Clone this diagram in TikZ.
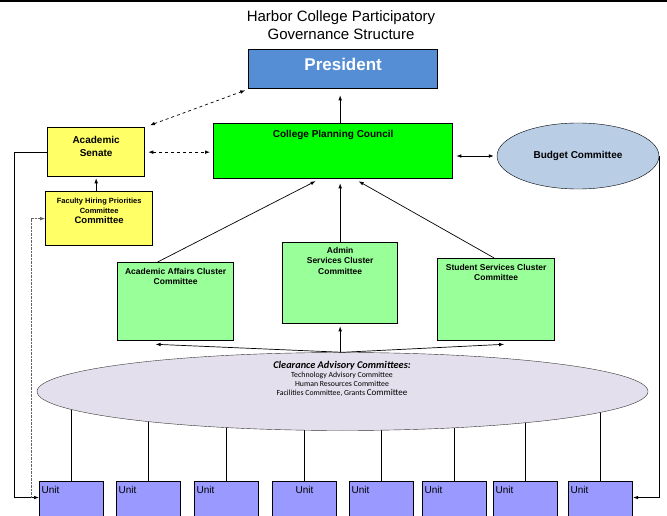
\documentclass[tikz,border=0pt]{standalone}
\usepackage{fontspec}
\setmainfont{Liberation Sans}
\newfontfamily\calfont{Carlito}
\usetikzlibrary{shapes.geometric,backgrounds,arrows.meta}

\definecolor{presblue}{HTML}{558ED5}
\definecolor{senyellow}{HTML}{FFFF66}
\definecolor{cpcgreen}{HTML}{00FF00}
\definecolor{clustgreen}{HTML}{99FF99}
\definecolor{budgetblue}{HTML}{B9CDE5}
\definecolor{cacgray}{HTML}{E4DFEC}
\definecolor{unitblue}{HTML}{9999FF}

\tikzset{
	box/.style={draw, line width=1.3pt, anchor=north west, inner sep=0pt},
	lbl/.style={anchor=north, align=center, inner sep=6pt, font=\bfseries\fontsize{8.5}{10.5}\selectfont},
	unit/.style={box, fill=unitblue, line width=1.1pt, minimum width=64pt, minimum height=38pt},
	conn/.style={line width=0.7pt},
}

\begin{document}
\begin{tikzpicture} [>={Latex[length=5pt, width=3.6pt]}, x=1pt, y=-1pt]
		\useasboundingbox (0,0) rectangle (667,516);
		\clip (0,0) rectangle (667,516);
		\fill (0,0) rectangle (667,2.5);
		\node [font=\fontsize{15}{18}\selectfont, align=center] (title) at (341,25) {Harbor College Participatory\\Governance Structure};
		% top of the chart
		\node [box, fill=presblue, minimum width=189pt, minimum height=39pt,
			label={[lbl, inner sep=9pt, text=white, font=\bfseries\fontsize{17}{20}\selectfont]north:President}] (pres) at (248,49) {};
		\node [box, fill=senyellow, minimum width=97pt, minimum height=49pt,
			label={[lbl, font=\bfseries\fontsize{10}{13}\selectfont, inner sep=9pt]north:Academic\\Senate}] (senate) at (47,127) {};
		\node [box, fill=senyellow, minimum width=107pt, minimum height=54pt,
			label={[lbl, font=\bfseries\fontsize{7.5}{10}\selectfont, inner sep=7pt]north:Faculty Hiring Priorities\\Committee\\{\fontsize{9.5}{10}\selectfont Committee}}] (faculty) at (45,191) {};
		\node [box, fill=cpcgreen, minimum width=239pt, minimum height=55pt,
			label={[lbl, font=\bfseries\fontsize{10}{12}\selectfont, inner sep=7pt]north:College Planning Council}] (cpc) at (213,123) {};
		\node [ellipse, draw, fill=budgetblue, minimum width=162pt, minimum height=66pt, inner sep=0pt,
			font=\bfseries\fontsize{10}{12}\selectfont] (budget) at (578,156) {Budget Committee};
		% cluster committees
		\node [box, fill=clustgreen, minimum width=116pt, minimum height=78pt,
			label={[lbl]north:Academic Affairs Cluster\\Committee}] (aac) at (117,262) {};
		\node [box, fill=clustgreen, minimum width=115pt, minimum height=81pt,
			label={[lbl, inner sep=5pt]north:Admin\\Services Cluster\\Committee}] (asc) at (282,242) {};
		\node [box, fill=clustgreen, minimum width=117pt, minimum height=82pt,
			label={[lbl]north:Student Services Cluster\\Committee}] (ssc) at (437,258) {};
		% advisory committees and units
		\node [ellipse, draw=black!80, fill=cacgray, minimum width=611pt, minimum height=78pt, inner sep=0pt] (cac) at (342.5,391.5) {};
		\node [align=center, font=\calfont\fontsize{7.8}{9}\selectfont] (cactext) at (342,379)
			{{\bfseries\itshape\fontsize{10.3}{11}\selectfont Clearance Advisory Committees:}\\Technology Advisory Committee\\Human Resources Committee\\Facilities Committee, Grants {\fontsize{9}{9}\selectfont Committee}};
		\foreach \x [count=\i] in {39,116,194,272,349,422,493,568} {
			\ifnum\i=4 \def\unitpos{north}\else\def\unitpos{north west}\fi
			\node [unit, label={[anchor=\unitpos, inner xsep=2.5pt, inner ysep=5.5pt, font=\fontsize{10}{12}\selectfont]\unitpos:Unit}] (u\i) at (\x,481) {};
		}
		\begin{scope}[on background layer]
			\foreach \i in {1,...,8}
				\draw [conn] (u\i.north) -- (u\i.north |- cac.center);
		\end{scope}
		% connectors
		\draw [conn, ->, shorten >=6pt] (cpc.north -| asc.north) -- (pres.south -| asc.north);
		\draw [conn, dashed, <->, shorten <=5pt, shorten >=3pt] (senate.north east) -- (pres.south west);
		\draw [conn, dashed, <->, shorten <=3pt, shorten >=3pt] (senate.east) -- (senate.east -| cpc.west);
		\draw [conn, <->, shorten <=3pt, shorten >=3pt] (cpc.east |- budget.west) -- (budget.west);
		\draw [conn, ->, shorten >=1pt] (senate.south |- faculty.north) -- (senate.south);
		\draw [conn, ->, shorten >=4pt] ([xshift=-18pt]aac.north) -- ([xshift=-14pt]cpc.south);
		\draw [conn, ->, shorten >=4pt] (asc.north) -- (asc.north |- cpc.south);
		\draw [conn, ->, shorten >=4pt] ([xshift=-2pt]ssc.north) -- ([xshift=22pt]cpc.south);
		\draw [conn, ->] (cac.north) -- ([xshift=-20pt, yshift=-3pt]aac.south);
		\draw [conn, ->, shorten >=2pt] (cac.north -| asc.south) -- (asc.south);
		\draw [conn, ->] (cac.north) -- ([xshift=8pt, yshift=-3pt]ssc.south);
		\draw [conn, ->] (senate.west) -- ++(-33,0) |- ([yshift=3pt]u1.west);
		\draw [conn, ->] (budget.east) |- ([yshift=3pt]u8.east);
		\draw [black!60, densely dotted, ->] ([xshift=-8pt, yshift=3pt]u1.west) |- (faculty.west);
	\end{tikzpicture}
\end{document}
